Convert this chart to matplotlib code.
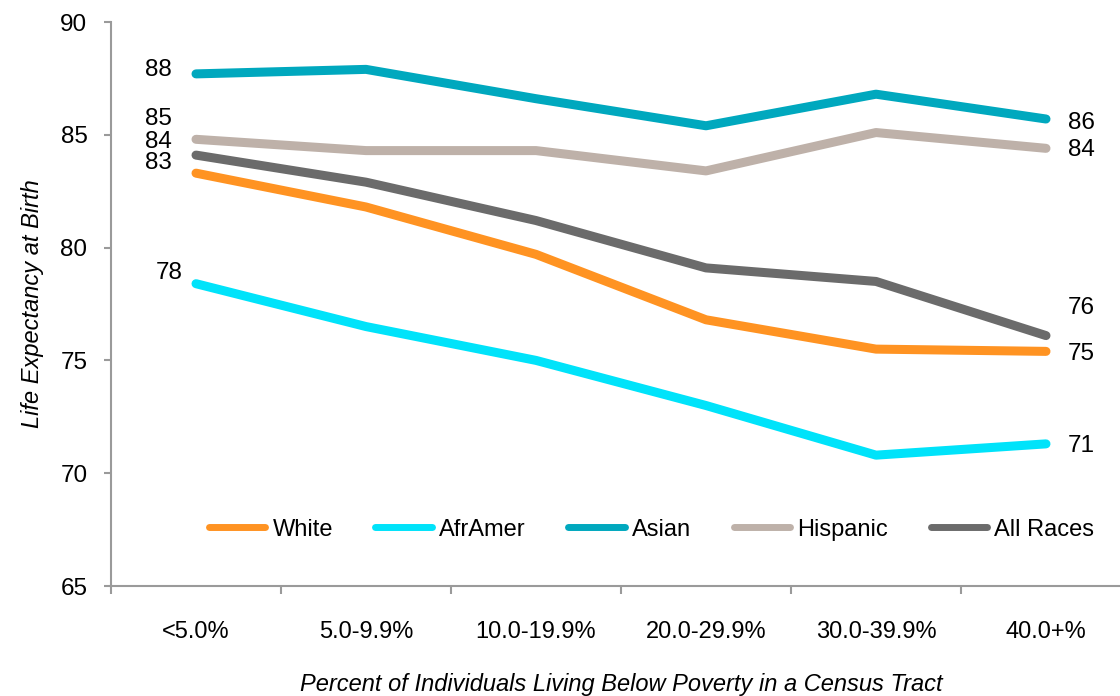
import numpy as np
import matplotlib
matplotlib.use("Agg")
import matplotlib.pyplot as plt

# 数据：按贫困比例分组的预期寿命
categories = ["<5.0%", "5.0-9.9%", "10.0-19.9%", "20.0-29.9%", "30.0-39.9%", "40.0+%"]
white = [83.3, 81.8, 79.7, 76.8, 75.5, 75.4]
afr_amer = [78.4, 76.5, 75.0, 73.0, 70.8, 71.3]
asian = [87.7, 87.9, 86.6, 85.4, 86.8, 85.7]
hispanic = [84.8, 84.3, 84.3, 83.4, 85.1, 84.4]
all_races = [84.1, 82.9, 81.2, 79.1, 78.5, 76.1]

series = [
    ("White", white, "#FF9322"),
    ("AfrAmer", afr_amer, "#00E3FA"),
    ("Asian", asian, "#00A8BE"),
    ("Hispanic", hispanic, "#BEB1A9"),
    ("All Races", all_races, "#6B6B6B"),
]

# 标签偏移（像素）
left_offsets = {"White": (-24, 10), "AfrAmer": (-13, 11), "Asian": (-24, 4),
                "Hispanic": (-24, 20), "All Races": (-24, 13)}
right_offsets = {"White": (22, -3), "AfrAmer": (22, -2), "Asian": (22, -4),
                 "Hispanic": (22, -2), "All Races": (22, 28)}

plt.rcParams["font.family"] = ["Liberation Sans", "DejaVu Sans"]

fig = plt.figure(figsize=(11.2, 6.96), dpi=100)
ax = fig.add_axes([111 / 1120, 110 / 696, 1020 / 1120, 564 / 696])

x = np.arange(len(categories))
for name, vals, color in series:
    ax.plot(x, vals, color=color, lw=6.5, solid_capstyle="round",
            solid_joinstyle="round", label=name)
    dx, dy = left_offsets[name]
    ax.annotate(f"{vals[0]:.0f}", (x[0], vals[0]), xytext=(dx, dy),
                textcoords="offset pixels", ha="right", va="center", fontsize=17.5)
    dx, dy = right_offsets[name]
    ax.annotate(f"{vals[-1]:.0f}", (x[-1], vals[-1]), xytext=(dx, dy),
                textcoords="offset pixels", ha="left", va="center", fontsize=17.5)

ax.set_xlim(-0.5, 5.5)
ax.set_ylim(65, 90)
ax.set_yticks(np.arange(65, 91, 5))
ax.set_xticks(x)
ax.set_xticklabels(categories)
ax.set_xticks(np.arange(-0.5, 6, 1), minor=True)

for side in ["top", "right"]:
    ax.spines[side].set_visible(False)
for side in ["left", "bottom"]:
    ax.spines[side].set_color("#9A9A9A")
    ax.spines[side].set_linewidth(1.5)

ax.tick_params(axis="y", length=5, width=1.5, color="#9A9A9A", pad=12, labelsize=17.5)
ax.tick_params(axis="x", which="major", length=0, pad=25, labelsize=17)
ax.tick_params(axis="x", which="minor", length=6, width=1.5, color="#9A9A9A")

ax.set_ylabel("Life Expectancy at Birth", fontsize=17, style="italic", labelpad=12)
ax.set_xlabel("Percent of Individuals Living Below Poverty in a Census Tract",
              fontsize=17, style="italic", labelpad=22)

leg = ax.legend(loc="center", bbox_to_anchor=(0.53, 0.1), ncol=5, frameon=False,
                handlelength=2.4, handletextpad=0.3, columnspacing=1.8,
                prop={"size": 17})
for h in leg.get_lines():
    h.set_linewidth(5)

fig.savefig("out.png", dpi=100)
